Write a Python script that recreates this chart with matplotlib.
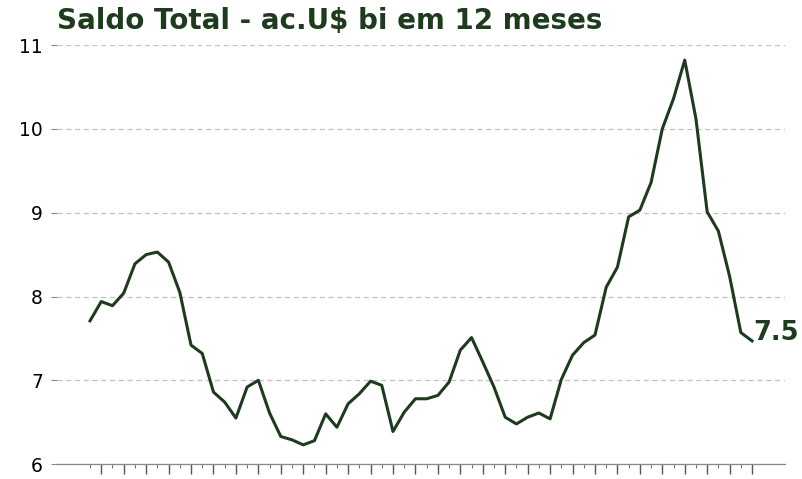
import matplotlib
matplotlib.use("Agg")
import matplotlib.pyplot as plt
import numpy as np

# saldo total acumulado em 12 meses (US$ bi), leitura do grafico
saldo = [7.71, 7.94, 7.89, 8.04, 8.39, 8.50, 8.53, 8.41, 8.05, 7.42,
         7.32, 6.86, 6.74, 6.55, 6.92, 7.00, 6.61, 6.33, 6.29, 6.23,
         6.28, 6.60, 6.44, 6.72, 6.84, 6.99, 6.94, 6.39, 6.62, 6.78,
         6.78, 6.82, 6.98, 7.36, 7.51, 7.22, 6.92, 6.56, 6.48, 6.56,
         6.61, 6.54, 7.01, 7.30, 7.45, 7.54, 8.11, 8.35, 8.95, 9.03,
         9.36, 10.00, 10.36, 10.82, 10.12, 9.01, 8.78, 8.24, 7.57, 7.47]
yticks = [6, 7, 8, 9, 10, 11]
titulo = "Saldo Total - ac.U$ bi em 12 meses"

verde = "#1e3b1e"
x = np.arange(len(saldo))

fig = plt.figure(figsize=(8.02, 4.79), dpi=100)
ax = fig.add_axes([0.071, 0.031, 0.908, 0.875])

ax.plot(x, saldo, color=verde, lw=2.2)
ax.text(x[-1] + 0.1, saldo[-1] + 0.09, f"{saldo[-1]:.1f}", color=verde,
        fontsize=18.5, fontweight="bold", va="center", ha="left")

ax.set_ylim(6, 11)
ax.set_yticks(yticks)
ax.set_xticks(x[1::2])
ax.set_xticks(x[0::2], minor=True)
ax.set_xticklabels([])
ax.tick_params(axis="x", which="major", length=7, color="#555555", width=1)
ax.tick_params(axis="x", which="minor", length=3, color="#777777", width=0.8)
ax.tick_params(axis="y", length=4, color="#888888", labelsize=13.5, pad=6)

ax.grid(axis="y", linestyle=(0, (4, 3)), color="#c0c0c0", lw=0.9)
for s in ["top", "right", "left"]:
    ax.spines[s].set_visible(False)
ax.spines["bottom"].set_color("#8a8a8a")
ax.spines["bottom"].set_linewidth(0.9)

fig.text(0.071, 0.926, titulo, color=verde, fontsize=20,
         fontweight="bold", ha="left", va="bottom")

fig.savefig("out.png", dpi=100)
